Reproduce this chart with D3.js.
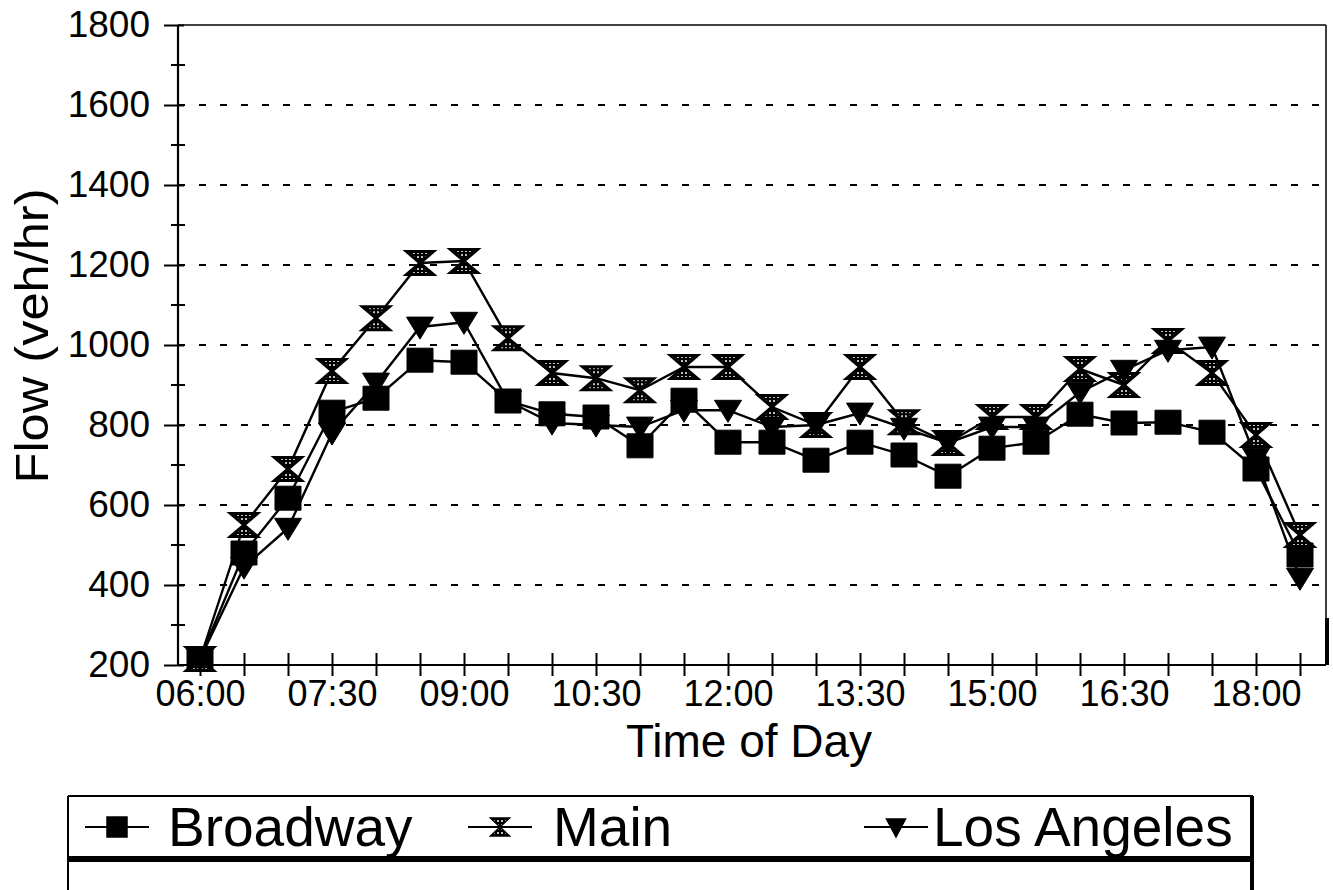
<!DOCTYPE html>
<html><head><meta charset="utf-8">
<script src="https://cdn.jsdelivr.net/npm/d3@7"></script>
<style>
body{margin:0;background:#fff}
svg{display:block}
text{font-family:"Liberation Sans",Arial,Helvetica,sans-serif;fill:#000}
</style>
</head><body>
<svg id="c" width="1333" height="890"></svg>
<script>
// ---- data ----
const categories = ["06:00","06:30","07:00","07:30","08:00","08:30","09:00","09:30","10:00","10:30",
  "11:00","11:30","12:00","12:30","13:00","13:30","14:00","14:30","15:00","15:30",
  "16:00","16:30","17:00","17:30","18:00","18:30"];
const tickLabels = ["06:00","07:30","09:00","10:30","12:00","13:30","15:00","16:30","18:00"];
const yTicks = [200,400,600,800,1000,1200,1400,1600,1800];
const yMinorTicks = [300,500,700,900,1100,1300,1500,1700];
const gridValues = [400,600,800,1000,1200,1400,1600];
const broadway = [215,480,617,832,867,962,957,860,828,820,748,862,757,757,712,757,725,672,742,757,827,805,807,782,690,475];
const mainSt   = [215,550,690,935,1067,1205,1210,1017,930,917,887,945,945,845,800,945,807,755,820,820,940,900,1010,930,775,525];
const losAngeles = [215,445,542,780,905,1045,1057,860,805,800,795,837,837,795,800,830,792,755,795,795,882,937,987,995,717,417];
const seriesNames = ["Broadway","Main","Los Angeles"];
const yTitle = "Flow (veh/hr)";
const xTitle = "Time of Day";

// ---- layout ----
const L = 178, R = 1326, T = 25, B = 665;
const svg = d3.select("#c");
const defs = svg.append("defs");
const pat = defs.append("pattern").attr("id","dots").attr("patternUnits","userSpaceOnUse")
  .attr("width",4).attr("height",4);
pat.append("rect").attr("width",4).attr("height",4).attr("fill","#000");
pat.append("circle").attr("cx",2).attr("cy",2).attr("r",1.0).attr("fill","#fff");

const xBand = d3.scaleBand().domain(categories).range([L, L + 44*26]).paddingInner(0).paddingOuter(0);
const x = c => xBand(c) + xBand.bandwidth()/2;
const y = d3.scaleLinear().domain([200,1800]).range([B, T]);

// gridlines
svg.append("g").selectAll("line").data(gridValues).join("line")
  .attr("x1", L).attr("x2", R).attr("y1", d=>y(d)).attr("y2", d=>y(d))
  .attr("stroke","#000").attr("stroke-width",2).attr("stroke-dasharray","7,14");

// frame top/right
svg.append("line").attr("x1",L).attr("x2",R).attr("y1",T).attr("y2",T).attr("stroke","#000").attr("stroke-width",1.5);
svg.append("line").attr("x1",R).attr("x2",R).attr("y1",T).attr("y2",B).attr("stroke","#000").attr("stroke-width",1.5);
svg.append("line").attr("x1",R+1).attr("x2",R+1).attr("y1",618).attr("y2",B).attr("stroke","#000").attr("stroke-width",4);

// y axis
const yAxis = svg.append("g").attr("transform",`translate(${L},0)`)
  .call(d3.axisLeft(y).tickValues(yTicks).tickSize(14).tickPadding(14).tickFormat(d3.format("d")));
yAxis.select(".domain").attr("stroke","#000").attr("stroke-width",2.2).attr("d",`M0,${T}V${B}`);
yAxis.selectAll(".tick line").attr("stroke","#000").attr("stroke-width",2).attr("x1",6);
yAxis.selectAll(".tick text").attr("font-size",37).attr("font-family","Liberation Sans, Arial, sans-serif").attr("fill","#000");
yAxis.append("g").selectAll("line").data(yMinorTicks).join("line")
  .attr("x1",-7).attr("x2",7).attr("y1",d=>y(d)).attr("y2",d=>y(d)).attr("stroke","#000").attr("stroke-width",2);

// x axis
const xAxis = svg.append("g").attr("transform",`translate(0,${B})`)
  .call(d3.axisBottom(d3.scalePoint().domain(categories).range([x(categories[0]), x(categories[categories.length-1])]))
    .tickSize(11).tickPadding(4).tickFormat(d => tickLabels.includes(d) ? d : ""));
xAxis.select(".domain").attr("stroke","#000").attr("stroke-width",2.2).attr("d",`M${L},0H${R}`);
xAxis.selectAll(".tick line").attr("stroke","#000").attr("stroke-width",2).attr("y1",-12);
xAxis.selectAll(".tick text").attr("font-size",36).attr("font-family","Liberation Sans, Arial, sans-serif").attr("fill","#000");

// titles
svg.append("text").attr("x",749).attr("y",757).attr("text-anchor","middle").attr("font-size",46).text(xTitle);
svg.append("text").attr("transform","translate(48,336) rotate(-90)").attr("text-anchor","middle")
  .attr("font-size",46).attr("textLength",295).attr("lengthAdjust","spacingAndGlyphs").text(yTitle);

// markers
const shapes = {
  square: (w,h) => `M${-w/2},${-h/2}H${w/2}V${h/2}H${-w/2}Z`,
  hourglass: (w,h) => `M${-w/2},${-h/2}L${w/2},${-h/2}L${-w/2},${h/2}L${w/2},${h/2}Z`,
  triangle: (w,h) => `M${-w/2},${-h*0.45}L${w/2},${-h*0.45}L0,${h*0.55}Z`
};
const series = [
  {name: seriesNames[0], values: broadway, shape: "square", w: 26, h: 24, fill: "#000"},
  {name: seriesNames[1], values: mainSt, shape: "hourglass", w: 27, h: 23, fill: "url(#dots)"},
  {name: seriesNames[2], values: losAngeles, shape: "triangle", w: 27, h: 22, fill: "#000"}
];
const line = d3.line().x((d,i)=>x(categories[i])).y(d=>y(d));
series.forEach(s => {
  const g = svg.append("g");
  g.append("path").attr("d", line(s.values)).attr("fill","none").attr("stroke","#000").attr("stroke-width",2.4);
  g.selectAll("path.m").data(s.values).join("path").attr("class","m")
    .attr("transform",(d,i)=>`translate(${x(categories[i])},${y(d)})`)
    .attr("d", shapes[s.shape](s.w, s.h)).attr("fill", s.fill)
    .attr("stroke","#000").attr("stroke-width", s.shape==="hourglass"?3:1).attr("stroke-linejoin","miter");
});

// legend
const lg = svg.append("g");
lg.append("line").attr("x1",68).attr("x2",1253).attr("y1",796).attr("y2",796).attr("stroke","#000").attr("stroke-width",2);
lg.append("line").attr("x1",68).attr("x2",68).attr("y1",796).attr("y2",890).attr("stroke","#000").attr("stroke-width",2);
lg.append("line").attr("x1",1252).attr("x2",1252).attr("y1",796).attr("y2",890).attr("stroke","#000").attr("stroke-width",4);
lg.append("line").attr("x1",68).attr("x2",1254).attr("y1",859).attr("y2",859).attr("stroke","#000").attr("stroke-width",6);
const legItems = [
  {s: series[0], lx: 85, tx: 168},
  {s: series[1], lx: 468, tx: 553},
  {s: series[2], lx: 864, tx: 933}
];
legItems.forEach(it => {
  const cy = 827;
  lg.append("line").attr("x1",it.lx).attr("x2",it.lx+64).attr("y1",cy).attr("y2",cy).attr("stroke","#000").attr("stroke-width",2);
  lg.append("path").attr("transform",`translate(${it.lx+32},${cy})`)
    .attr("d", shapes[it.s.shape](it.s.shape==="square"?20:19, it.s.shape==="square"?20:18))
    .attr("fill", it.s.fill).attr("stroke","#000").attr("stroke-width",1.5);
  lg.append("text").attr("x",it.tx).attr("y",846).attr("font-size",55).text(it.s.name);
});
</script>
</body></html>
